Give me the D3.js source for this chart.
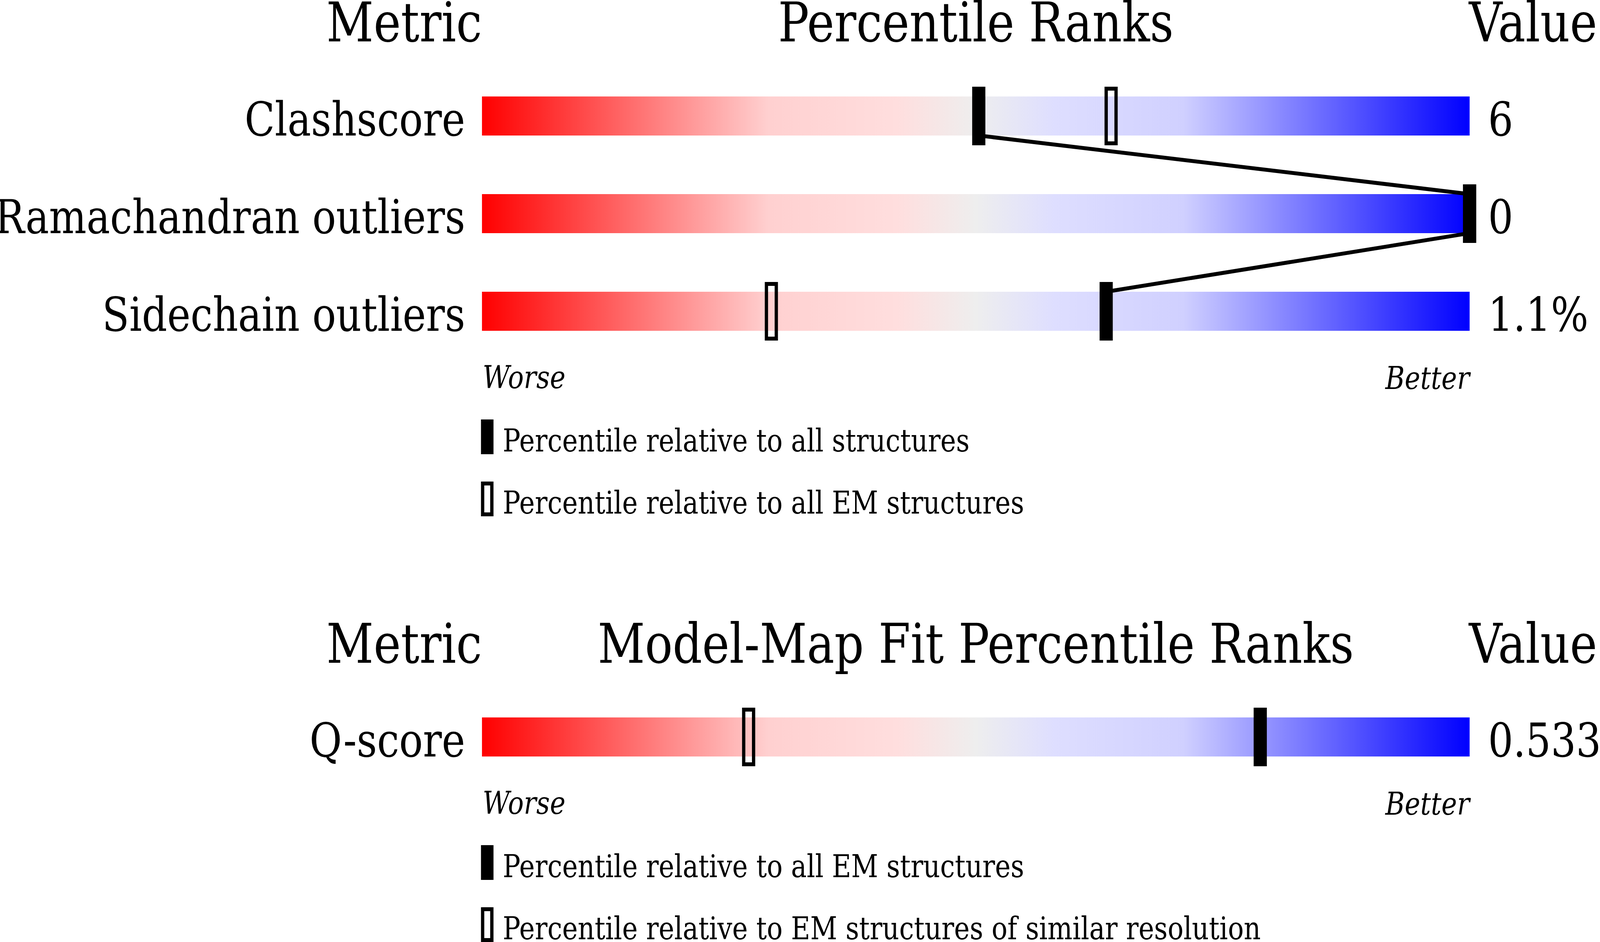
<!DOCTYPE html>
<html>
<head>
<meta charset="utf-8">
<script src="https://cdn.jsdelivr.net/npm/d3@7"></script>
<style>
  html, body { margin: 0; padding: 0; width: 100%; height: 100%; overflow: hidden; background: #fff; }
  svg { display: block; width: 100vw; height: 100vh; font-family: "DejaVu Serif", serif; }
</style>
</head>
<body>
<svg id="chart"></svg>
<script>
// geometry quality panel
var metrics1 = ["Clashscore", "Ramachandran outliers", "Sidechain outliers"];
var values1 = ["6", "0", "1.1%"];
var pctAll1 = [50.3, 100, 63.2];   // filled markers
var pctEM1 = [63.7, 100, 29.3];    // open markers
var legend1 = ["Percentile relative to all structures", "Percentile relative to all EM structures"];

// model-map fit panel
var metrics2 = ["Q-score"];
var values2 = ["0.533"];
var pctAll2 = [78.8];
var pctEM2 = [27.0];
var legend2 = ["Percentile relative to all EM structures", "Percentile relative to EM structures of similar resolution"];

var width = 4860, height = 2412;
var step = 250;

// drawn in a fixed 4860x2412 box and stretched over the whole window
var svg = d3.select("#chart")
    .attr("viewBox", "0 0 " + width + " " + height)
    .attr("preserveAspectRatio", "none");

// red - grey - blue gradient used by every slider bar
var defs = svg.append("defs");
var grad = defs.append("linearGradient")
    .attr("id", "slider")
    .attr("x1", "0%").attr("x2", "100%")
    .attr("y1", "0%").attr("y2", "0%");
[[0, "#ff0000"], [0.29, "#ffd0d0"], [0.42, "#ffdede"], [0.5, "#eeeeee"],
 [0.58, "#dedeff"], [0.71, "#d0d0ff"], [1, "#0000ff"]].forEach(function(s) {
    grad.append("stop").attr("offset", s[0]).attr("stop-color", s[1]);
});

var x = d3.scaleLinear().domain([0, 100]).range([1464, 4464]);

function panel(opt) {
    var g = svg.append("g");
    var n = opt.metrics.length;
    // step 250, bar height 100 whatever the number of rows
    var y = d3.scaleBand()
        .domain(opt.metrics)
        .range([opt.top, opt.top + step * n])
        .paddingInner(0.6)
        .paddingOuter(0.3)
        .align(0);

    // headers
    g.append("text").attr("x", x(0)).attr("y", opt.header)
        .attr("text-anchor", "end").attr("font-size", 140).text("Metric");
    g.append("text").attr("x", (x(0) + x(100)) / 2).attr("y", opt.header)
        .attr("text-anchor", "middle").attr("font-size", 140).text(opt.title);
    g.append("text").attr("x", x(100) - 2).attr("y", opt.header)
        .attr("font-size", 140).text("Value");

    // bars
    g.selectAll("rect.bar").data(opt.metrics).enter().append("rect")
        .attr("class", "bar")
        .attr("x", x(0))
        .attr("y", function(d) { return y(d); })
        .attr("width", x(100) - x(0))
        .attr("height", y.bandwidth())
        .attr("fill", "url(#slider)");

    // metric names and values
    g.selectAll("text.metric").data(opt.metrics).enter().append("text")
        .attr("class", "metric")
        .attr("x", x(0) - 51)
        .attr("y", function(d) { return y(d) + y.bandwidth(); })
        .attr("text-anchor", "end").attr("font-size", 120)
        .text(function(d) { return d; });
    g.selectAll("text.value").data(opt.values).enter().append("text")
        .attr("class", "value")
        .attr("x", x(100) + 56)
        .attr("y", function(d, i) { return y(opt.metrics[i]) + y.bandwidth(); })
        .attr("font-size", 120)
        .text(function(d) { return d; });

    // line joining the filled markers
    if (n > 1) {
        var pts = [];
        opt.pctAll.forEach(function(p, i) {
            if (i > 0) pts.push([x(p), y(opt.metrics[i])]);
            if (i < n - 1) pts.push([x(p), y(opt.metrics[i]) + y.bandwidth()]);
        });
        g.append("path")
            .attr("d", d3.line()(pts))
            .attr("fill", "none")
            .attr("stroke", "#000")
            .attr("stroke-width", 10);
    }

    // open markers
    g.selectAll("rect.em").data(opt.pctEM).enter().append("rect")
        .attr("class", "em")
        .attr("x", function(d) { return x(d) - 15; })
        .attr("y", function(d, i) { return y(opt.metrics[i]) - 20; })
        .attr("width", 30)
        .attr("height", y.bandwidth() + 40)
        .attr("fill", "none")
        .attr("stroke", "#000")
        .attr("stroke-width", 10);

    // filled markers
    g.selectAll("rect.all").data(opt.pctAll).enter().append("rect")
        .attr("class", "all")
        .attr("x", function(d) { return x(d) - 20; })
        .attr("y", function(d, i) { return y(opt.metrics[i]) - 25; })
        .attr("width", 40)
        .attr("height", y.bandwidth() + 50)
        .attr("fill", "#000");

    var bottom = y(opt.metrics[n - 1]) + y.bandwidth();

    g.append("text").attr("x", x(0) + 2).attr("y", bottom + 147)
        .attr("font-size", 80).attr("font-style", "italic").text("Worse");
    g.append("text").attr("x", x(100)).attr("y", bottom + 149)
        .attr("text-anchor", "end")
        .attr("font-size", 80).attr("font-style", "italic").text("Better");

    // legend
    var lg = g.selectAll("g.legend").data(opt.legend).enter().append("g")
        .attr("class", "legend")
        .attr("transform", function(d, i) { return "translate(0," + (bottom + 227 + i * 159) + ")"; });
    lg.filter(function(d, i) { return i === 0; }).append("rect")
        .attr("x", 1461).attr("y", 0).attr("width", 38).attr("height", 89)
        .attr("fill", "#000");
    lg.filter(function(d, i) { return i === 1; }).append("rect")
        .attr("x", 1466).attr("y", 5).attr("width", 28).attr("height", 79)
        .attr("fill", "none").attr("stroke", "#000").attr("stroke-width", 10);
    lg.append("text")
        .attr("x", 1527).attr("y", 82)
        .attr("font-size", 80)
        .text(function(d) { return d; });
}

panel({
    title: "Percentile Ranks", header: 106, top: 247,
    metrics: metrics1, values: values1, pctAll: pctAll1, pctEM: pctEM1, legend: legend1
});
panel({
    title: "Model-Map Fit Percentile Ranks", header: 1697, top: 1837,
    metrics: metrics2, values: values2, pctAll: pctAll2, pctEM: pctEM2, legend: legend2
});
</script>
</body>
</html>
